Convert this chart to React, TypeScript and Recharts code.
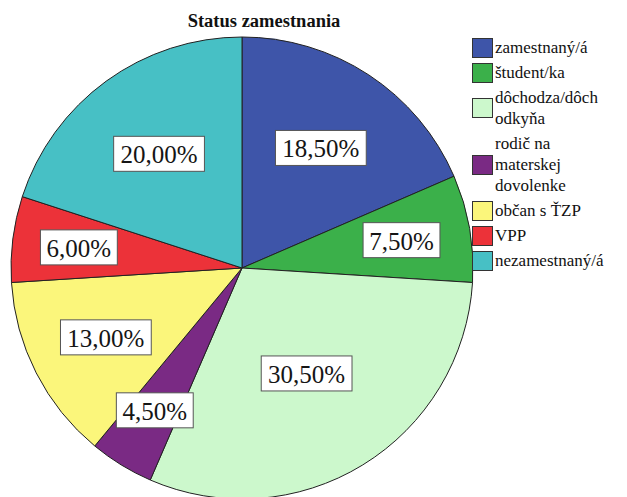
import { Cell, Legend, Pie, PieChart } from "recharts";

const categories = [
  "zamestnaný/á",
  "študent/ka",
  "dôchodza/dôchodkyňa",
  "rodič na materskej dovolenke",
  "občan s ŤZP",
  "VPP",
  "nezamestnaný/á",
];
const legendLines = [
  ["zamestnaný/á"],
  ["študent/ka"],
  ["dôchodza/dôch", "odkyňa"],
  ["rodič na", "materskej", "dovolenke"],
  ["občan s ŤZP"],
  ["VPP"],
  ["nezamestnaný/á"],
];
const percents = [18.5, 7.5, 30.5, 4.5, 13.0, 6.0, 20.0];
const colors = ["#3e55a9", "#3bb04a", "#ccf8cc", "#7a2a84", "#fbf67b", "#ec3239", "#47c0c5"];

const data = categories.map((name, i) => ({ name, value: percents[i] }));

const FONT = "Liberation Serif, Liberation Sans, serif";
const RADIAN = Math.PI / 180;
const LABEL_FONT = 25;

// rough glyph widths (em) for the label box
const charWidth = (ch: string) => (ch === "," ? 0.278 : ch === "%" ? 0.889 : 0.556);

function fmt(v: number) {
  return v.toFixed(2).replace(".", ",") + "%";
}

function renderLabel(props: any) {
  const { cx, cy, midAngle, outerRadius, value } = props;
  // narrow slices push the box further out
  const r = outerRadius * (0.755 - 0.0072 * value);
  const x = cx + r * Math.cos(-midAngle * RADIAN);
  const y = cy + r * Math.sin(-midAngle * RADIAN);
  const text = fmt(value);
  const w = text.split("").reduce((s, c) => s + charWidth(c), 0) * LABEL_FONT + 6;
  const h = 35;
  return (
    <g>
      <rect x={x - w / 2} y={y - h / 2} width={w} height={h} fill="#ffffff" stroke="#555" strokeWidth={1} />
      <text
        x={x}
        y={y + 1}
        textAnchor="middle"
        dominantBaseline="central"
        style={{ fontFamily: FONT }}
        fontSize={LABEL_FONT}
        fill="#151515"
      >
        {text}
      </text>
    </g>
  );
}

function LegendBox() {
  return (
    <div style={{ fontFamily: FONT, fontSize: 17, color: "#111" }}>
      {legendLines.map((lines, i) => (
        <div key={i} style={{ display: "flex", alignItems: "center", padding: "2px 0" }}>
          <div
            style={{
              width: 21,
              height: 20,
              boxSizing: "border-box",
              background: colors[i],
              border: "1px solid #333",
              flexShrink: 0,
            }}
          />
          <div style={{ marginLeft: 2, lineHeight: "21px", whiteSpace: "nowrap" }}>
            {lines.map((l, j) => (
              <div key={j}>{l}</div>
            ))}
          </div>
        </div>
      ))}
    </div>
  );
}

export default function App() {
  return (
    <div
      style={{
        position: "absolute",
        left: 0,
        top: 0,
        width: 627,
        height: 497,
        background: "#fff",
        overflow: "hidden",
        fontFamily: FONT,
      }}
    >
      <div
        style={{
          position: "absolute",
          left: 0,
          width: 528,
          top: 12,
          textAlign: "center",
          fontWeight: "bold",
          fontSize: 18.5,
          lineHeight: "19px",
          color: "#111",
          zIndex: 2,
        }}
      >
        Status zamestnania
      </div>
      <PieChart width={627} height={497} margin={{ top: 0, right: 0, bottom: 0, left: 0 }}>
        <Pie
          data={data}
          dataKey="value"
          nameKey="name"
          cx={242}
          cy={268}
          outerRadius={231}
          startAngle={90}
          endAngle={-270}
          stroke="#222"
          strokeWidth={1}
          label={renderLabel}
          labelLine={false}
          isAnimationActive={false}
        >
          {data.map((d, i) => (
            <Cell key={d.name} fill={colors[i]} />
          ))}
        </Pie>
        <Legend
          layout="vertical"
          content={() => <LegendBox />}
          wrapperStyle={{ position: "absolute", left: 472, top: 35, width: 155 }}
        />
      </PieChart>
    </div>
  );
}
